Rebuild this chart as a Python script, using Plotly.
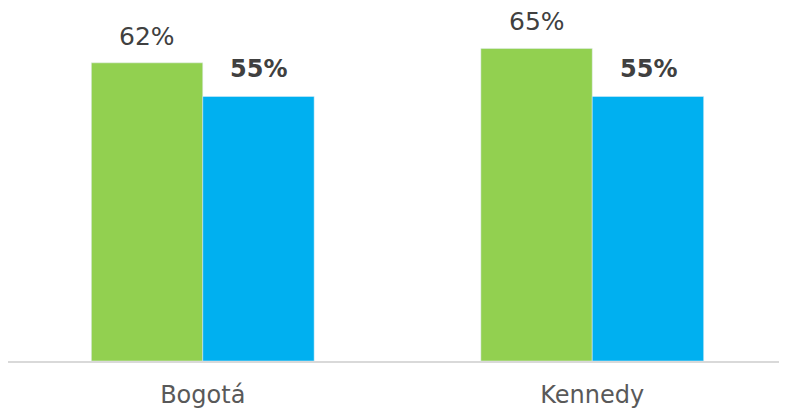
import plotly.graph_objects as go

categories = ["Bogotá", "Kennedy"]
green_values = [0.62, 0.65]
blue_values = [0.55, 0.55]

fig = go.Figure()
fig.add_trace(go.Bar(x=categories, y=green_values, marker_color="#92D050", name="A"))
fig.add_trace(go.Bar(x=categories, y=blue_values, marker_color="#00B0F0", name="B"))

# value labels above each bar
for cat, v in zip(categories, green_values):
    fig.add_annotation(x=cat, y=v, text=f"{v:.0%}", xshift=-55.5, yshift=10,
                       yanchor="bottom", showarrow=False,
                       font=dict(family="DejaVu Sans", size=25, color="#404040"))
for cat, v in zip(categories, blue_values):
    fig.add_annotation(x=cat, y=v, text=f"<b>{v:.0%}</b>", xshift=56, yshift=11,
                       yanchor="bottom", showarrow=False,
                       font=dict(family="DejaVu Sans", size=24, color="#404040"))

# page body has an 8px margin, so the figure is sized to fit inside the window
fig.update_layout(
    width=779, height=400,
    margin=dict(l=0, r=0, t=0, b=47),
    barmode="group", bargap=0.428, bargroupgap=0,
    showlegend=False,
    plot_bgcolor="white", paper_bgcolor="white",
    font=dict(family="DejaVu Sans", size=24, color="#595959"),
)
fig.update_xaxes(showline=True, linecolor="#D9D9D9", linewidth=2, ticks="", ticklabelstandoff=11)
fig.update_yaxes(range=[0, 0.734], visible=False, showgrid=False)

fig.write_html("out.html")
